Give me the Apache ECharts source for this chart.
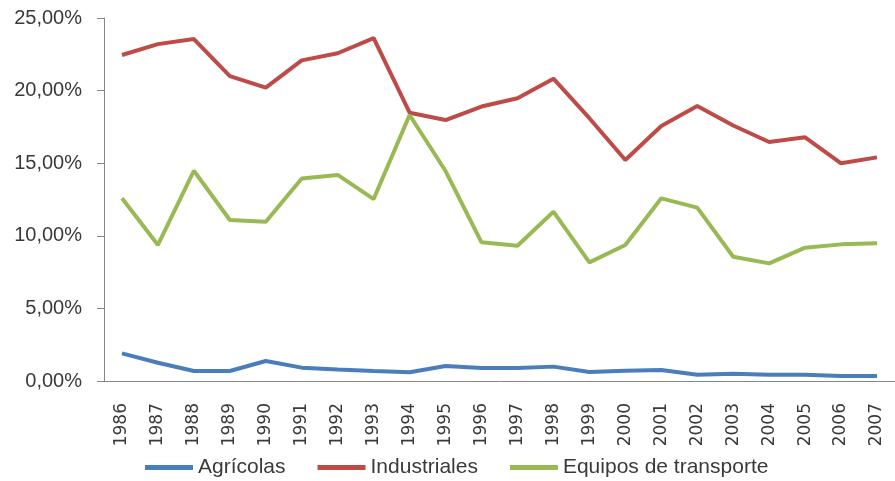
<!DOCTYPE html>
<html>
<head>
<meta charset="utf-8">
<script src="https://cdn.jsdelivr.net/npm/echarts@6/dist/echarts.min.js"></script>
<style>
    html, body { margin: 0; padding: 0; background: #fff; }
    #chart { width: 895px; height: 481px; }
</style>
</head>
<body>
<div id="chart"></div>
<script>
const years = ['1986', '1987', '1988', '1989', '1990', '1991', '1992', '1993', '1994', '1995', '1996',
    '1997', '1998', '1999', '2000', '2001', '2002', '2003', '2004', '2005', '2006', '2007'];
const agricolas = [1.90, 1.26, 0.69, 0.69, 1.38, 0.92, 0.80, 0.69, 0.60, 1.03, 0.90,
    0.90, 0.99, 0.62, 0.71, 0.76, 0.43, 0.50, 0.43, 0.43, 0.34, 0.34];
const industriales = [22.45, 23.20, 23.55, 21.00, 20.20, 22.08, 22.57, 23.62, 18.48, 17.97, 18.90,
    19.47, 20.82, 18.10, 15.22, 17.56, 18.94, 17.60, 16.46, 16.78, 14.99, 15.40];
const equipos = [12.58, 9.37, 14.48, 11.09, 10.97, 13.95, 14.19, 12.53, 18.32, 14.46, 9.55,
    9.32, 11.66, 8.17, 9.37, 12.58, 11.94, 8.56, 8.10, 9.18, 9.41, 9.48];

const font = 'Liberation Sans';
const textColor = '#3a3a3a';
const axisGray = '#868686';

const chart = echarts.init(document.getElementById('chart'), null, {renderer: 'canvas'});

function makeSeries(name, data, color) {
    return {
        name: name,
        type: 'line',
        data: data,
        symbol: 'none',
        lineStyle: {width: 4, color: color},
        itemStyle: {color: color},
    };
}

chart.setOption({
    animation: false,
    grid: {left: 104, top: 18, width: 794, bottom: 100},
    legend: {
        top: 452,
        left: 140,
        itemWidth: 48,
        itemHeight: 5,
        itemGap: 32,
        icon: 'rect',
        textStyle: {fontFamily: font, fontSize: 21, color: textColor},
    },
    xAxis: {
        type: 'category',
        data: years,
        axisLine: {lineStyle: {color: axisGray}},
        axisTick: {length: 8, lineStyle: {color: axisGray}},
        axisLabel: {
            rotate: 90,
            interval: 0,
            margin: 22,
            fontFamily: 'DejaVu Sans',
            fontSize: 17,
            color: textColor,
        },
    },
    yAxis: {
        type: 'value',
        min: 0,
        max: 25,
        interval: 5,
        splitLine: {show: false},
        axisLine: {show: true, lineStyle: {color: axisGray}},
        axisTick: {show: true, length: 7, lineStyle: {color: axisGray}},
        axisLabel: {
            margin: 22,
            fontFamily: font,
            fontSize: 20,
            color: textColor,
            formatter: v => v.toFixed(2).replace('.', ',') + '%',
        },
    },
    series: [
        makeSeries('Agrícolas', agricolas, '#4A7EBB'),
        makeSeries('Industriales', industriales, '#BE4B48'),
        makeSeries('Equipos de transporte', equipos, '#98B954'),
    ],
});
</script>
</body>
</html>
